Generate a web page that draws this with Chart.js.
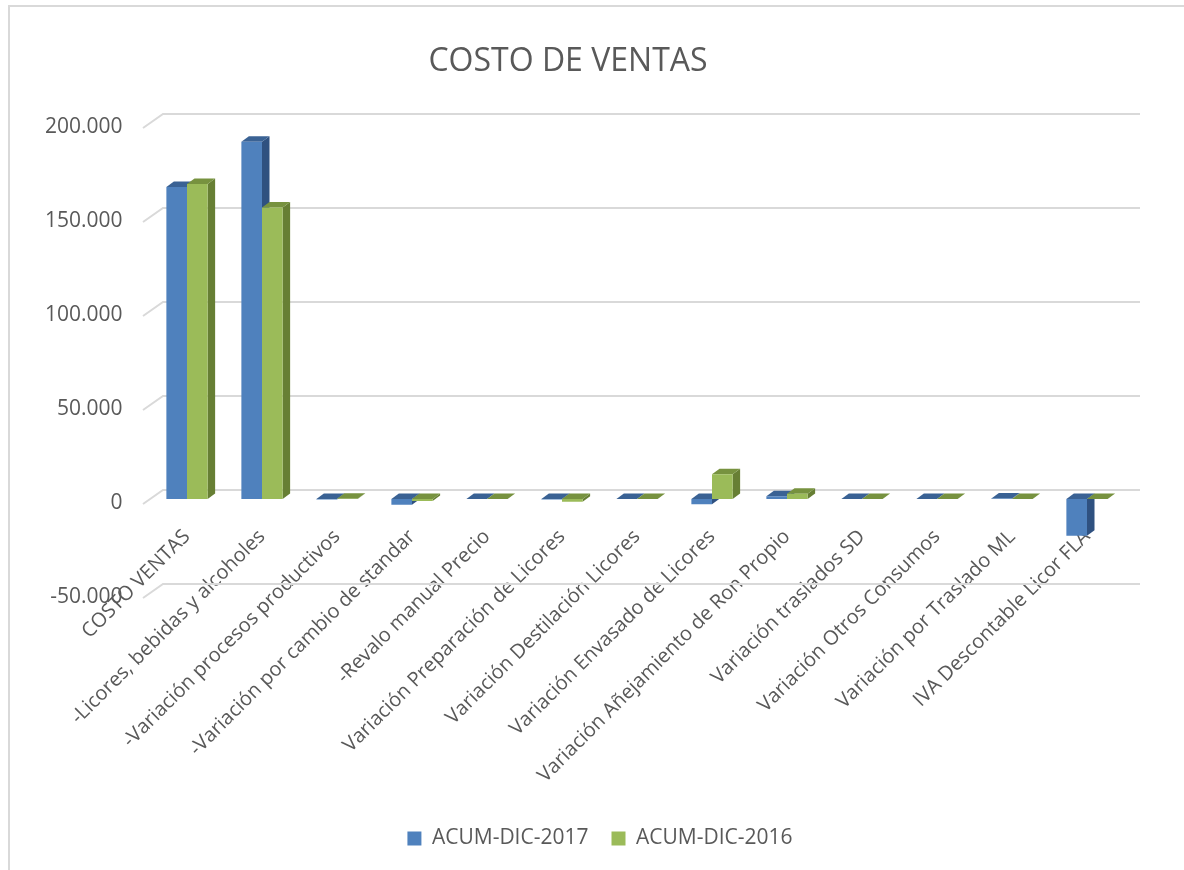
<!DOCTYPE html>
<html>
<head>
<meta charset="utf-8">
<script src="https://cdn.jsdelivr.net/npm/chart.js@4"></script>
<style>
  html, body { margin: 0; padding: 0; background: #fff; }
  canvas { display: block; }
</style>
</head>
<body>
<canvas id="myChart" width="1184" height="870"></canvas>
<script>
// data for the chart
var categories = [
    'COSTO VENTAS',
    '-Licores, bebidas y alcoholes',
    '-Variación procesos productivos',
    '-Variación por cambio de standar',
    '-Revalo manual Precio',
    'Variación Preparación de Licores',
    'Variación Destilación Licores',
    'Variación Envasado de Licores',
    'Variación Añejamiento de Ron Propio',
    'Variación traslados SD',
    'Variación Otros Consumos',
    'Variación por Traslado ML',
    'IVA Descontable Licor FLA'
];
var acum2017 = [166000, 190000, -200, -3000, 0, -300, 0, -2800, 1500, 0, 0, 300, -19500];
var acum2016 = [167500, 155000, 100, -1000, 0, -1500, 0, 13200, 2800, 0, 0, 0, 0];
var seriesNames = ['ACUM-DIC-2017', 'ACUM-DIC-2016'];
var yTicks = [-50000, 0, 50000, 100000, 150000, 200000];

var textColor = '#595959';
var fontName = '"Open Sans", "Liberation Sans", sans-serif';

// colours: front, top, side
var faces = [
    { front: '#4F81BD', top: '#3A6294', side: '#2F5180' },
    { front: '#9BBB59', top: '#77923F', side: '#677F34' }
];

// 1.000 style thousands separator
function fmt(v) {
    var s = String(Math.abs(v)).replace(/\B(?=(\d{3})+(?!\d))/g, '.');
    return (v < 0 ? '-' : '') + s;
}

// back wall gridlines, like the excel 3d chart
var wallGrid = {
    id: 'wallGrid',
    beforeDatasetsDraw: function (chart) {
        var ctx = chart.ctx, area = chart.chartArea, y = chart.scales.y;
        ctx.save();
        ctx.strokeStyle = '#d9d9d9';
        ctx.lineWidth = 2;
        yTicks.forEach(function (v) {
            var py = y.getPixelForValue(v);
            ctx.beginPath();
            ctx.moveTo(area.left - 6.5, py + 5);
            ctx.lineTo(area.left + 13.5, py - 9);
            ctx.lineTo(area.right + 15.5, py - 9);
            ctx.stroke();
        });
        ctx.restore();
    }
};

// depth faces (top + right side) of each column
var bars3d = {
    id: 'bars3d',
    beforeDatasetsDraw: function (chart) {
        var ctx = chart.ctx, dx = 7.5, dy = 5.5;
        ctx.save();
        var n = categories.length;
        for (var i = 0; i < n; i++) {
            chart.data.datasets.forEach(function (ds, d) {
                var el = chart.getDatasetMeta(d).data[i];
                var l = el.x - el.width / 2, r = el.x + el.width / 2;
                var t = Math.min(el.y, el.base), b = Math.max(el.y, el.base);
                ctx.fillStyle = faces[d].side;
                ctx.beginPath();
                ctx.moveTo(r, t); ctx.lineTo(r + dx, t - dy);
                ctx.lineTo(r + dx, b - dy); ctx.lineTo(r, b);
                ctx.closePath(); ctx.fill();
                ctx.fillStyle = faces[d].top;
                ctx.beginPath();
                ctx.moveTo(l, t); ctx.lineTo(l + dx, t - dy);
                ctx.lineTo(r + dx, t - dy); ctx.lineTo(r, t);
                ctx.closePath(); ctx.fill();
            });
        }
        ctx.restore();
    }
};

// chart title and outer frame
var frameTitle = {
    id: 'frameTitle',
    afterDraw: function (chart) {
        var ctx = chart.ctx;
        ctx.save();
        ctx.strokeStyle = '#d9d9d9';
        ctx.lineWidth = 2;
        ctx.beginPath();
        ctx.moveTo(9, 880);
        ctx.lineTo(9, 6);
        ctx.lineTo(1190, 6);
        ctx.stroke();
        ctx.fillStyle = textColor;
        ctx.font = '32px ' + fontName;
        ctx.textAlign = 'center';
        ctx.textBaseline = 'middle';
        ctx.fillText('COSTO DE VENTAS', 568, 62);
        ctx.restore();
    }
};

const data = {
    labels: categories,
    datasets: [
        {
            label: seriesNames[0],
            data: acum2017,
            backgroundColor: faces[0].front,
            borderWidth: 0,
            categoryPercentage: 0.55,
            barPercentage: 1.0
        },
        {
            label: seriesNames[1],
            data: acum2016,
            backgroundColor: faces[1].front,
            borderWidth: 0,
            categoryPercentage: 0.55,
            barPercentage: 1.0
        }
    ]
};

const config = {
    type: 'bar',
    data: data,
    plugins: [wallGrid, bars3d, frameTitle],
    options: {
        responsive: false,
        animation: false,
        devicePixelRatio: 1,
        layout: {
            padding: { top: 123, left: 16, right: 0, bottom: 11 }
        },
        plugins: {
            title: { display: false },
            tooltip: { enabled: false },
            legend: {
                position: 'bottom',
                labels: {
                    boxWidth: 14,
                    boxHeight: 14,
                    padding: 23,
                    color: textColor,
                    font: { family: fontName, size: 21 }
                }
            }
        },
        scales: {
            // category labels hang from the zero line
            x: {
                position: { y: 0 },
                grid: { display: false, drawTicks: false },
                border: { display: false },
                ticks: {
                    autoSkip: false,
                    minRotation: 45,
                    maxRotation: 45,
                    padding: 26,
                    color: textColor,
                    font: { family: fontName, size: 20 }
                }
            },
            // empty axes that only reserve room, as in the original
            xSpace: {
                type: 'category',
                labels: [''],
                position: 'bottom',
                grid: { display: false, drawTicks: false },
                border: { display: false },
                ticks: { display: false },
                afterFit: function (s) { s.height = 212; }
            },
            ySpace: {
                type: 'linear',
                position: 'right',
                grid: { display: false, drawTicks: false },
                border: { display: false },
                ticks: { display: false },
                afterFit: function (s) { s.width = 59.5; }
            },
            y: {
                min: -50000,
                max: 200000,
                grid: { display: false, drawTicks: false },
                border: { display: false },
                ticks: {
                    stepSize: 50000,
                    padding: 27,
                    labelOffset: 4,
                    color: textColor,
                    font: { family: fontName, size: 21 },
                    callback: function (v) { return fmt(v); }
                },
                afterFit: function (s) { s.width = 133.5; }
            }
        }
    }
};

const myChart = new Chart(document.getElementById('myChart'), config);
</script>
</body>
</html>
